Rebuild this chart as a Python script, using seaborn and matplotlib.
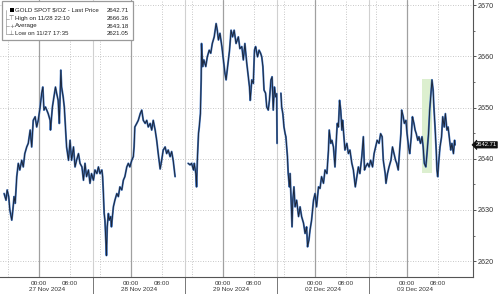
import numpy as np
import pandas as pd
import matplotlib
matplotlib.use("Agg")
import matplotlib.pyplot as plt
import matplotlib.transforms as mtransforms
from matplotlib.patches import Rectangle
from matplotlib.lines import Line2D
import seaborn as sns

# ---- data (trading-hour index: 0 = 27 Nov 2024 00:00, weekend removed) ----
hours = [
    -9.1, -8.6, -8.3, -7.9, -7.6, -7.1, -6.9, -6.5, -6.2, -5.8,
    -5.4, -5.0, -4.5, -4.1, -3.7, -3.2, -2.8, -2.3, -1.9, -1.5,
    -1.0, -0.6, -0.2, 0.3, 0.7, 1.0, 1.3, 1.7, 2.4, 2.9,
    3.0, 3.5, 3.9, 4.3, 4.6, 5.0, 5.3, 5.7, 5.9, 6.3,
    6.6, 7.0, 7.2, 7.7, 8.1, 8.5, 9.0, 9.4, 9.8, 10.3,
    10.7, 11.2, 11.6, 12.0, 12.4, 12.9, 13.3, 13.7, 14.2, 14.6,
    15.1, 15.5, 15.9, 16.4, 16.6, 16.8, 17.0, 17.2, 17.5, 17.6,
    17.8, 18.1, 18.3, 18.7, 18.9, 19.4, 19.8, 20.3, 20.7, 21.1,
    21.6, 22.0, 22.4, 22.9, 23.3, 23.7, 24.2, 24.6, 24.8, 25.0,
    25.5, 25.9, 26.4, 26.8, 27.2, 27.7, 28.1, 28.5, 29.0, 29.4,
    29.8, 30.3, 30.7, 31.1, 31.6, 32.0, 32.4, 32.9, 33.3, 33.7,
    34.2, 34.6, 35.0, 35.5, 38.9, 39.4, 39.8, 40.3, 40.5,
    40.9, 41.1, 41.3, 41.6, 41.8, 42.1, 42.3, 42.4, 42.7, 43.0,
    43.5, 43.9, 44.4, 44.8, 45.2, 45.7, 46.2, 46.5, 46.8, 47.2,
    47.7, 48.1, 48.5, 48.8, 49.2, 49.7, 50.1, 50.5, 50.9, 51.4,
    52.0, 52.4, 52.9, 53.3, 53.7, 54.2, 54.6, 54.9, 55.1, 55.5,
    55.9, 56.2, 56.5, 57.0, 57.4, 57.8, 58.1, 58.4, 58.7, 59.1,
    59.4, 59.8, 60.1, 60.5, 60.8, 61.1, 61.4, 61.7, 62.0,
    62.1, 63.1, 63.3, 63.6, 63.9, 64.2, 64.4, 64.8, 65.0,
    65.3, 65.5, 65.7, 66.0, 66.2, 66.5, 66.8, 67.2, 67.7, 68.1,
    68.5, 69.0, 69.4, 69.8, 70.05, 70.4, 70.7, 71.1, 71.6, 72.0,
    72.4, 72.9, 73.3, 73.7, 74.2, 74.6, 75.1, 75.5, 75.7, 76.1,
    76.4, 76.8, 77.2, 77.5, 77.8, 78.1, 78.4, 78.7, 79.0, 79.2,
    79.6, 79.8, 80.3, 80.7, 81.1, 81.6, 82.0, 82.5, 82.9, 83.3,
    83.7, 84.2, 84.6, 84.9, 85.2, 85.7, 86.1, 86.5, 87.0, 87.4,
    87.8, 88.2, 88.7, 89.1, 89.5, 89.8, 90.3, 90.5, 90.9, 91.3,
    91.8, 92.2, 92.6, 93.0, 93.3, 93.7, 94.0, 94.4, 94.6, 95.0,
    95.3, 95.7, 96.0, 96.4, 96.7, 97.1, 97.4, 97.8, 98.1, 98.4,
    98.8, 99.1, 99.5, 99.9, 100.2, 100.5, 100.9, 101.2, 101.6, 101.9,
    102.3, 102.5, 102.8, 103.0, 103.3, 103.6, 103.8, 104.0, 104.3, 104.6,
    105.0, 105.3, 105.7, 106.0, 106.4, 106.7, 107.0, 107.4, 107.7, 108.1,
    108.4, 108.5,
]
price = [
    2633.2, 2631.9, 2633.9, 2632.6, 2630.0, 2628.0, 2629.3, 2632.6, 2631.3, 2636.5,
    2639.1, 2637.8, 2639.7, 2638.4, 2641.0, 2642.3, 2643.0, 2645.6, 2642.3, 2647.5,
    2648.2, 2646.2, 2647.5, 2650.1, 2652.8, 2654.0, 2649.5, 2650.1, 2648.8, 2647.5,
    2645.6, 2650.1, 2652.1, 2654.0, 2652.8, 2651.4, 2646.9, 2657.3, 2654.0, 2652.1,
    2650.1, 2644.9, 2642.3, 2639.7, 2643.6, 2639.7, 2642.3, 2638.4, 2639.7, 2641.0,
    2639.1, 2638.4, 2635.8, 2639.1, 2636.5, 2637.8, 2635.2, 2637.1, 2635.8, 2637.8,
    2637.1, 2638.4, 2637.1, 2637.8, 2636.5, 2633.2, 2629.3, 2628.0, 2622.8, 2621.1,
    2626.7, 2629.3, 2628.0, 2628.7, 2626.7, 2630.6, 2631.9, 2633.2, 2632.6, 2634.5,
    2633.9, 2635.8, 2636.5, 2638.4, 2639.1, 2638.4, 2639.7, 2640.4, 2642.3, 2646.2,
    2646.9, 2647.5, 2648.8, 2649.5, 2647.5, 2646.9, 2647.5, 2646.2, 2646.9, 2645.6,
    2647.5, 2645.6, 2643.6, 2641.0, 2638.0, 2639.7, 2641.7, 2642.3, 2641.0, 2641.7,
    2640.4, 2641.4, 2639.7, 2636.5, 2639.1, 2638.8, 2639.1, 2637.8, 2639.1,
    2637.1, 2634.5, 2639.7, 2644.9, 2646.2, 2648.8, 2655.4, 2662.5, 2658.0, 2659.3,
    2658.0, 2659.9, 2661.2, 2660.6, 2662.5, 2663.8, 2666.4, 2665.1, 2663.2, 2664.5,
    2661.9, 2659.3, 2656.7, 2655.4, 2658.0, 2661.2, 2665.1, 2663.8, 2665.1, 2662.5,
    2663.8, 2661.5, 2661.9, 2659.3, 2662.5, 2658.6, 2656.0, 2654.0, 2651.4, 2655.4,
    2654.7, 2661.2, 2661.9, 2659.9, 2661.2, 2660.6, 2659.9, 2658.0, 2653.4, 2652.8,
    2650.1, 2649.5, 2651.4, 2655.4, 2656.0, 2649.5, 2654.0, 2652.1, 2652.7,
    2643.0, 2652.8, 2650.1, 2648.8, 2646.2, 2644.9, 2644.3, 2640.4, 2637.1,
    2634.5, 2637.1, 2633.2, 2626.7, 2631.9, 2634.5, 2630.6, 2631.9, 2628.7, 2630.6,
    2628.7, 2627.4, 2625.4, 2626.7, 2622.8, 2624.1, 2626.1, 2628.0, 2631.9, 2633.2,
    2630.6, 2634.5, 2634.2, 2636.5, 2635.2, 2637.8, 2637.1, 2641.7, 2645.6, 2643.0,
    2643.6, 2642.3, 2638.4, 2643.0, 2646.9, 2646.2, 2651.4, 2649.5, 2645.6, 2647.5,
    2643.6, 2641.7, 2643.0, 2641.0, 2641.7, 2639.1, 2637.8, 2634.5, 2636.5, 2638.4,
    2637.1, 2640.4, 2644.3, 2637.8, 2638.4, 2639.1, 2638.4, 2639.7, 2638.4, 2641.0,
    2642.3, 2643.6, 2643.0, 2644.9, 2644.3, 2639.7, 2637.1, 2635.2, 2637.1, 2638.4,
    2639.7, 2642.3, 2641.0, 2639.7, 2639.1, 2637.8, 2641.0, 2644.9, 2649.5, 2648.2,
    2646.9, 2647.5, 2644.9, 2642.3, 2641.0, 2644.3, 2648.2, 2646.9, 2645.6, 2644.9,
    2643.6, 2644.3, 2643.0, 2644.3, 2642.3, 2639.1, 2638.4, 2641.0, 2644.9, 2649.5,
    2653.4, 2655.4, 2653.4, 2650.1, 2646.2, 2641.7, 2637.8, 2636.5, 2639.7, 2642.3,
    2644.3, 2648.2, 2646.2, 2648.8, 2645.6, 2646.2, 2644.3, 2641.7, 2643.0, 2641.0,
    2643.6, 2642.7,
]
assert len(hours) == len(price)

gap_points = [37.0, 61.85, 62.6]          # breaks in the price line
day_starts = [0, 24, 48, 72, 96]           # 00:00 each day
session_splits = [14, 38, 62, 86]          # date-group boundaries
dotted_hours = [-8, 8, 16, 32, 40, 56, 64, 80, 88, 104]
time_ticks = [0, 8, 24, 32, 48, 56, 72, 80, 96, 104]
time_labels = ["00:00", "08:00"] * 5
date_centers = [2, 26, 50, 74, 98]
date_labels = ["27 Nov 2024", "28 Nov 2024", "29 Nov 2024", "02 Dec 2024", "03 Dec 2024"]
y_ticks = [2620, 2630, 2640, 2650, 2660, 2670]
highlight_x = [99.9, 102.5]
highlight_y = [2637.2, 2655.5]

legend_rows = ["GOLD SPOT $/OZ - Last Price", "High on 11/28 22:10", "Average", "Low on 11/27 17:35"]
legend_vals = ["2642.71", "2666.36", "2643.18", "2621.05"]
last_price = 2642.71

df = pd.DataFrame({"hour": hours, "price": price})
df["session"] = np.searchsorted(gap_points, df["hour"])

sns.set_theme(style="white")
plt.rcParams["font.family"] = ["Liberation Sans", "DejaVu Sans"]

fig = plt.figure(figsize=(5.0, 2.94), dpi=100)
ax = fig.add_axes([0.0, 17 / 294, 473 / 500, 277 / 294])

ax.set_xlim(-10.17, 113.2)
ax.set_ylim(2616.9, 2671.0)

# grid / separators
for yv in y_ticks:
    ax.axhline(yv, color="#b5b5b5", lw=0.6, ls=(0, (1, 2)), zorder=0)
for xv in dotted_hours:
    ax.axvline(xv, color="#b5b5b5", lw=0.6, ls=(0, (1, 2)), zorder=0)
for xv in day_starts:
    ax.axvline(xv, color="#a0a0a0", lw=0.9, zorder=0)
for xv in session_splits:
    ax.axvline(xv, color="#d0d0d0", lw=0.8, zorder=0)
ax.vlines(session_splits, -17 / 277, 0, transform=ax.get_xaxis_transform(),
          color="#777777", lw=0.7, clip_on=False)

# green highlight
ax.fill_between(highlight_x, highlight_y[0], highlight_y[1], color="#dcefcf", lw=0, zorder=1)

# price line
sns.lineplot(data=df, x="hour", y="price", units="session", estimator=None,
             color="#4678c2", lw=1.4, ax=ax, zorder=2, legend=False)
sns.lineplot(data=df, x="hour", y="price", units="session", estimator=None,
             color="#1b2435", lw=0.65, ax=ax, zorder=3, legend=False)

# axes styling
for s in ["left", "top"]:
    ax.spines[s].set_visible(False)
for s in ["right", "bottom"]:
    ax.spines[s].set_color("#555555")
    ax.spines[s].set_linewidth(0.8)

ax.yaxis.tick_right()
ax.set_yticks(y_ticks)
ax.set_yticks(np.arange(2620, 2671, 5), minor=True)
ax.tick_params(axis="y", which="major", direction="out", length=2.5, width=0.7,
               colors="#555555", labelsize=5.2, labelcolor="#333333", pad=1)
ax.tick_params(axis="y", which="minor", direction="out", length=1.5, width=0.6, colors="#555555")

ax.set_xticks(time_ticks)
ax.set_xticklabels(time_labels)
ax.set_xticks(date_centers, minor=True)
ax.set_xticklabels(date_labels, minor=True)
ax.tick_params(axis="x", which="major", direction="out", length=2, width=0.6,
               colors="#555555", labelsize=4.6, labelcolor="#333333", pad=1)
ax.tick_params(axis="x", which="minor", length=0, labelsize=4.6, labelcolor="#333333", pad=7.5)
ax.set_xlabel("")
ax.set_ylabel("")

# last price tag
blend = mtransforms.blended_transform_factory(ax.transAxes, ax.transData)
ax.text(1.005, last_price, f"{last_price:.2f}", transform=blend, ha="left", va="center",
        fontsize=4.2, color="white", clip_on=False,
        bbox=dict(boxstyle="larrow,pad=0.12", fc="#111111", ec="#111111", lw=0.5))

# legend box (figure coordinates)
def fx(px):
    return px / 500
def fy(py):
    return 1 - py / 294

fig.patches.append(Rectangle((fx(2), fy(40)), fx(131), 39 / 294, transform=fig.transFigure,
                             fc="white", ec="#9a9a9a", lw=0.9, zorder=5))
row_y = [10, 18.5, 26, 33.5]
fig.lines.append(Line2D([fx(6), fx(6)], [fy(10), fy(33.5)], transform=fig.transFigure,
                        color="#9a9a9a", lw=0.5, zorder=6))
for ry in row_y[1:]:
    fig.lines.append(Line2D([fx(6), fx(9)], [fy(ry), fy(ry)], transform=fig.transFigure,
                            color="#9a9a9a", lw=0.5, zorder=6))
fig.patches.append(Rectangle((fx(9.5), fy(12.2)), fx(4), 4.4 / 294, transform=fig.transFigure,
                             fc="black", ec="black", lw=0, zorder=6))
symbols = ["", "\u22a4", "+", "\u22a5"]
for i, (lab, val) in enumerate(zip(legend_rows, legend_vals)):
    fig.text(fx(15), fy(row_y[i]), lab, fontsize=4.4, color="#222222", va="center", ha="left", zorder=7)
    fig.text(fx(129), fy(row_y[i]), val, fontsize=4.4, color="#222222", va="center", ha="right", zorder=7)
    if symbols[i]:
        fig.text(fx(11.5), fy(row_y[i]), symbols[i], fontsize=4.4, color="#666666",
                 va="center", ha="center", family=["DejaVu Sans"], zorder=7)

fig.savefig("out.png", dpi=100, facecolor="white")
